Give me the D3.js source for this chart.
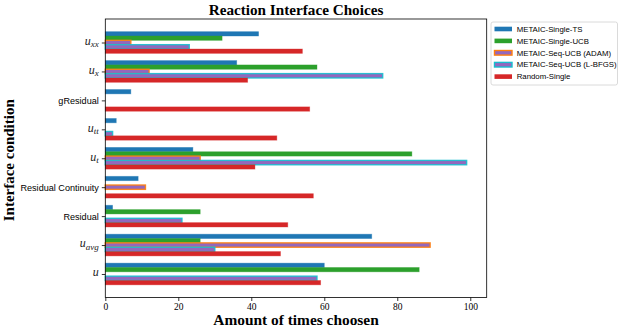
<!DOCTYPE html>
<html>
<head>
	<meta charset="utf-8">
	<title>Reaction Interface Choices</title>
	<script type="text/javascript" src="https://cdn.jsdelivr.net/npm/d3@7"></script>
	<style>
		body {
			margin: 0;
			background: #fff;
		}
		.serif { font-family: "Liberation Serif", "DejaVu Serif", serif; }
		.sans { font-family: "Liberation Sans", "DejaVu Sans", sans-serif; }
	</style>
</head>

<body>

	<div id="chart"></div>

	<script>

		// data (bottom to top, as drawn)

		const categories = ["u", "u_avg", "Residual", "Residual Continuity", "u_t", "u_tt", "gResidual", "u_x", "u_xx"];
		const seriesNames = ["METAIC-Single-TS", "METAIC-Single-UCB", "METAIC-Seq-UCB (ADAM)", "METAIC-Seq-UCB (L-BFGS)", "Random-Single"];

		const singleTS   = [60, 73, 2, 9, 24, 3, 7, 36, 42];
		const singleUCB  = [86, 26, 26, 0, 84, 0, 0, 58, 32];
		const seqAdam    = [0, 89, 0, 11, 26, 0, 0, 12, 7];
		const seqLbfgs   = [58, 30, 21, 0, 99, 2, 0, 76, 23];
		const randomSgl  = [59, 48, 50, 57, 41, 47, 56, 39, 54];

		const xTicks = [0, 20, 40, 60, 80, 100];

		// customization

		const width  = 623;
		const height = 331;
		const marginLeft   = 105.3;
		const marginRight  = 136.3;
		const marginTop    = 19;
		const marginBottom = 33.5;

		const fills   = ["#1f77b4", "#2ca02c", "#9467bd", "#9467bd", "#d62728"];
		const edges   = ["#1f77b4", "#2ca02c", "#ff7f0e", "#17becf", "#d62728"];
		const barH    = 0.15;

		const allSeries = [singleTS, singleUCB, seqAdam, seqLbfgs, randomSgl];

		const svg = d3.select("#chart")
			.append("svg")
			.attr("width", width)
			.attr("height", height)
			.attr("viewBox", [0, 0, width, height]);

		const xScale = d3.scaleLinear([0, 104.5], [marginLeft, width - marginRight]);
		const yScale = d3.scaleLinear([-0.8125, 8.8125], [height - marginBottom, marginTop]);

		// bars
		const bars = [];
		allSeries.forEach((vals, s) => {
			vals.forEach((v, i) => {
				bars.push({ s, i, v, off: (2 - s) * barH });
			});
		});

		svg.append("g")
			.selectAll("rect")
			.data(bars.filter(d => d.v > 0))
			.join("rect")
			.attr("x", xScale(0))
			.attr("y", d => yScale(d.i + d.off + barH / 2))
			.attr("width", d => xScale(d.v) - xScale(0))
			.attr("height", d => yScale(0) - yScale(barH))
			.attr("fill", d => fills[d.s])
			.attr("stroke", d => edges[d.s])
			.attr("stroke-width", d => (d.s === 2 || d.s === 3) ? 1.4 : 0.8)
			.attr("stroke-opacity", d => (d.s === 2 || d.s === 3) ? 0.9 : 0.45);

		// x axis
		const xAxis = d3.axisBottom(xScale).tickValues(xTicks).tickSize(3.5).tickPadding(2);
		svg.append("g")
			.attr("class", "serif")
			.attr("transform", `translate(0,${height - marginBottom})`)
			.call(xAxis)
			.call(g => g.select(".domain").remove())
			.call(g => g.selectAll(".tick line").attr("stroke-width", 0.8))
			.call(g => g.selectAll(".tick text").attr("font-size", 9.5).attr("fill", "#000"));

		// y axis
		const yAxis = d3.axisLeft(yScale).tickValues(d3.range(categories.length)).tickSize(3.5).tickPadding(3)
			.tickFormat(i => categories[i]);
		svg.append("g")
			.attr("transform", `translate(${marginLeft},0)`)
			.call(yAxis)
			.call(g => g.select(".domain").remove())
			.call(g => g.selectAll(".tick line").attr("stroke-width", 0.8))
			.call(g => g.selectAll(".tick text").each(function(i) {
				const label = categories[i];
				const t = d3.select(this).attr("fill", "#000");
				if (label.startsWith("u")) {
					const parts = label.split("_");
					t.text(null)
						.attr("class", "serif")
						.attr("font-style", "italic")
						.attr("font-size", 12)
						.attr("fill", "#222")
						.attr("dy", "0.15em");
					t.append("tspan").text(parts[0]);
					if (parts[1]) {
						t.append("tspan").text(parts[1])
							.attr("font-size", 9)
							.attr("dy", "0.25em");
					}
				} else {
					t.attr("class", "sans").attr("font-size", 9.1);
				}
			}));

		// frame
		svg.append("rect")
			.attr("x", marginLeft)
			.attr("y", marginTop)
			.attr("width", width - marginLeft - marginRight)
			.attr("height", height - marginTop - marginBottom)
			.attr("fill", "none")
			.attr("stroke", "#000")
			.attr("stroke-width", 0.8);

		// title and axis labels
		svg.append("text")
			.attr("class", "serif")
			.attr("x", (marginLeft + width - marginRight) / 2)
			.attr("y", 15)
			.attr("text-anchor", "middle")
			.attr("font-weight", "bold")
			.attr("font-size", 15.2)
			.text("Reaction Interface Choices");

		svg.append("text")
			.attr("class", "serif")
			.attr("x", (marginLeft + width - marginRight) / 2)
			.attr("y", 325)
			.attr("text-anchor", "middle")
			.attr("font-weight", "bold")
			.attr("font-size", 15.4)
			.text("Amount of times choosen");

		svg.append("text")
			.attr("class", "serif")
			.attr("transform", `translate(14,${(marginTop + height - marginBottom) / 2 + 2}) rotate(-90)`)
			.attr("text-anchor", "middle")
			.attr("font-weight", "bold")
			.attr("font-size", 15)
			.text("Interface condition");

		// legend
		const legend = svg.append("g").attr("transform", "translate(491,22)");
		legend.append("rect")
			.attr("width", 126.5)
			.attr("height", 63)
			.attr("rx", 2)
			.attr("fill", "#fff")
			.attr("stroke", "#d0d0d0")
			.attr("stroke-width", 0.8);

		const item = legend.selectAll("g.item")
			.data(seriesNames)
			.join("g")
			.attr("class", "item")
			.attr("transform", (d, k) => `translate(0,${7 + k * 11.9})`);

		item.append("rect")
			.attr("x", 3.5)
			.attr("y", -2.3)
			.attr("width", 17.5)
			.attr("height", 4.6)
			.attr("fill", (d, k) => fills[k])
			.attr("stroke", (d, k) => edges[k])
			.attr("stroke-width", (d, k) => (k === 2 || k === 3) ? 1.4 : 0);

		item.append("text")
			.attr("class", "sans")
			.attr("x", 25.7)
			.attr("y", 0)
			.attr("dy", "0.35em")
			.attr("font-size", 7.8)
			.attr("fill", "#000")
			.text(d => d);

	</script>

</body>

</html>
